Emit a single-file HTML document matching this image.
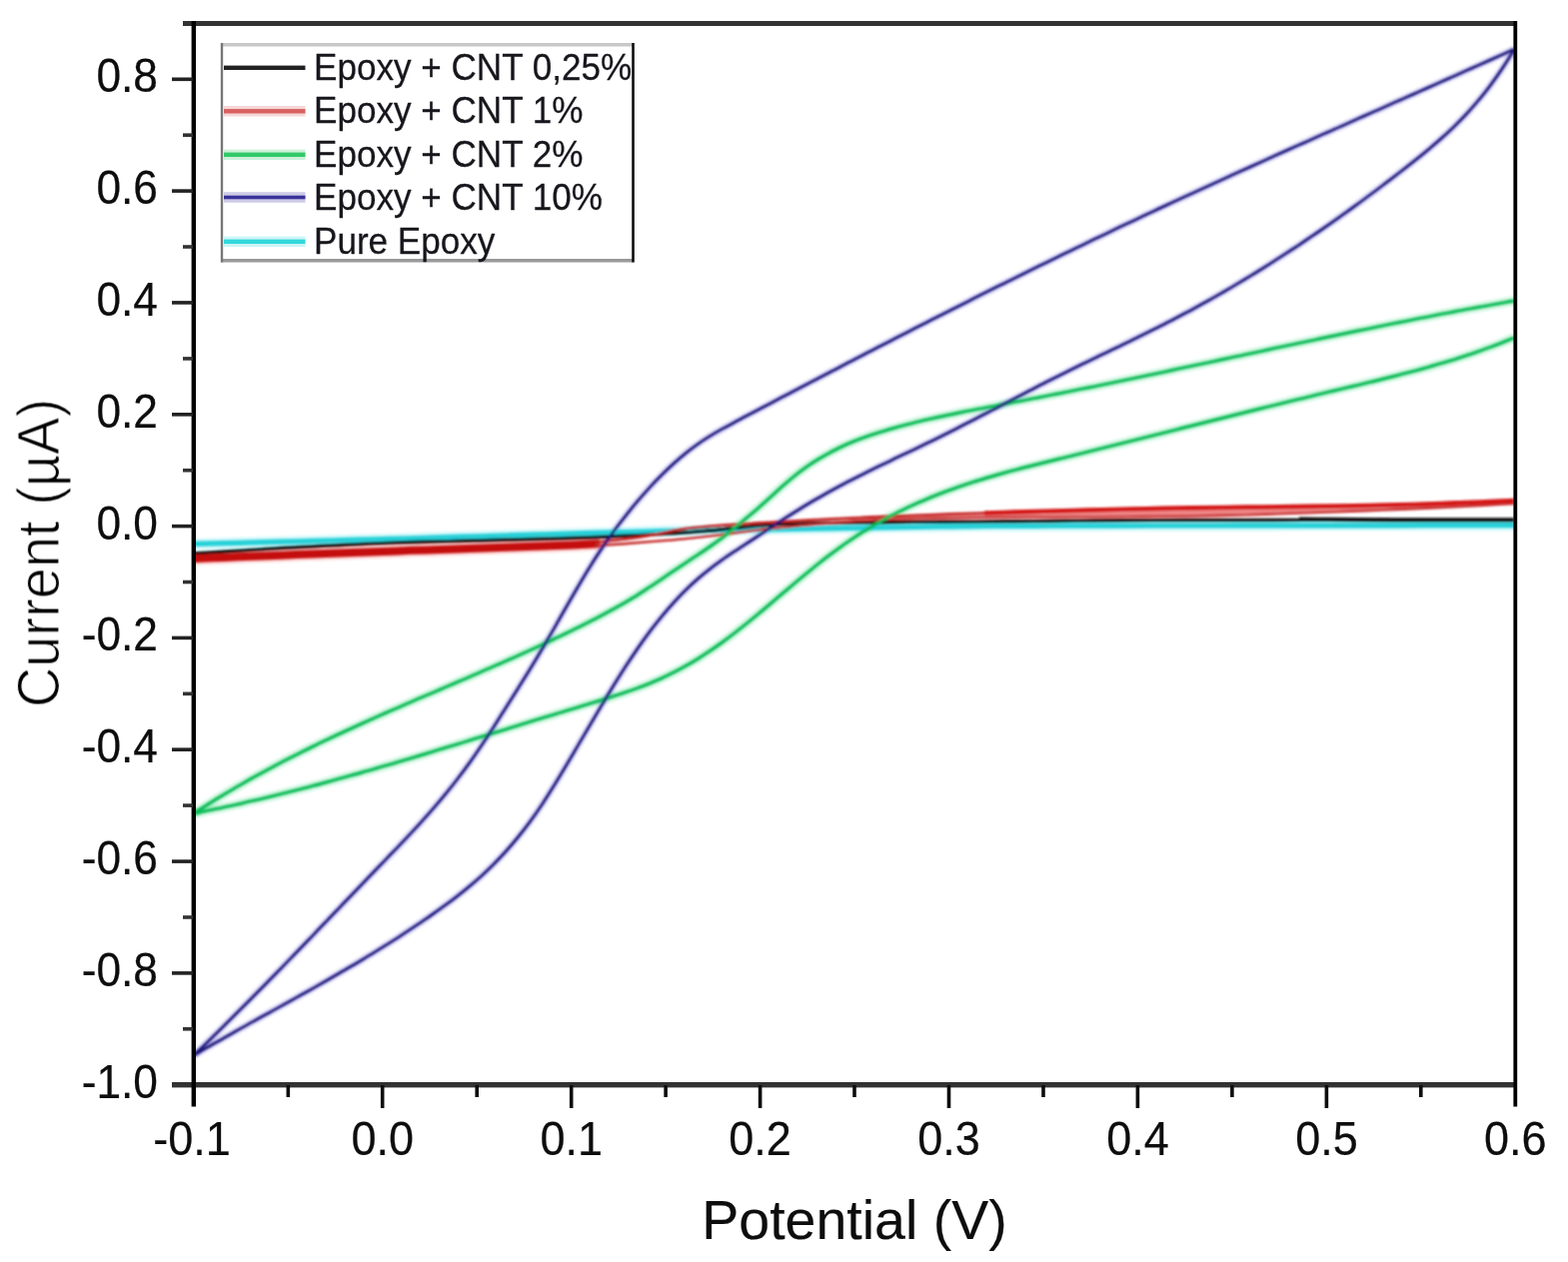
<!DOCTYPE html>
<html lang="en"><head><meta charset="utf-8"><title>Cyclic voltammetry – Epoxy + CNT</title>
<style>
html,body{margin:0;padding:0;background:#fff;}
body{width:1569px;height:1263px;overflow:hidden;}
svg{display:block;}
text{font-family:"Liberation Sans",sans-serif;fill:#0c0c0c;stroke:#0c0c0c;stroke-width:0.2px;stroke-linejoin:round;}
.tk{font-size:45px;}
.lg{font-size:35.1px;fill:#16161c;stroke:#16161c;stroke-width:0.25px;}
.ax{font-size:56px;fill:#0c0c0c;stroke:#0c0c0c;stroke-width:0.15px;}
</style></head><body>
<svg width="1569" height="1263" viewBox="0 0 1569 1263">
<rect width="1569" height="1263" fill="#fff"/>
<defs><filter id="b1" x="-2%" y="-2%" width="104%" height="104%"><feGaussianBlur stdDeviation="0.9"/></filter><filter id="b2" x="-5%" y="-5%" width="110%" height="110%"><feGaussianBlur stdDeviation="0.75"/></filter><clipPath id="cp"><rect x="193.8" y="23" width="1322.5" height="1063"/></clipPath></defs>
<g clip-path="url(#cp)"><g fill="none" stroke-linejoin="round" stroke-linecap="butt" filter="url(#b1)">
<g stroke-opacity="0.22">
<path d="M194.0 544.4 C199.0 544.3 214.0 543.9 224.0 543.7 C234.0 543.4 244.0 543.2 254.0 542.9 C264.1 542.7 274.1 542.4 284.1 542.2 C294.1 541.9 304.1 541.7 314.1 541.4 C324.1 541.1 334.1 540.9 344.1 540.6 C354.1 540.3 364.1 540.1 374.1 539.8 C384.1 539.5 394.2 539.3 404.2 539.0 C414.2 538.7 424.2 538.4 434.2 538.1 C444.2 537.8 454.2 537.5 464.2 537.2 C474.2 536.9 484.2 536.6 494.2 536.3 C504.2 536.0 514.2 535.7 524.2 535.4 C534.3 535.1 544.3 534.9 554.3 534.6 C564.3 534.3 574.3 534.0 584.3 533.7 C594.3 533.4 604.3 533.1 614.3 532.9 C624.3 532.6 634.3 532.3 644.3 532.0 C654.3 531.7 664.4 531.5 674.4 531.3 C684.4 531.0 694.4 530.9 704.4 530.7 C714.4 530.5 724.4 530.4 734.4 530.2 C744.4 530.1 754.4 530.0 764.4 529.8 C774.4 529.7 784.4 529.5 794.5 529.3 C804.5 529.2 814.5 529.0 824.5 528.8 C834.5 528.6 844.5 528.5 854.5 528.3 C864.5 528.1 874.5 528.0 884.5 527.8 C894.5 527.6 904.5 527.5 914.5 527.3 C924.6 527.2 934.6 527.0 944.6 526.9 C954.6 526.8 964.6 526.6 974.6 526.6 C984.6 526.5 994.6 526.5 1004.6 526.4 C1014.6 526.4 1024.6 526.3 1034.6 526.3 C1044.6 526.3 1054.7 526.2 1064.7 526.2 C1074.7 526.2 1084.7 526.2 1094.7 526.2 C1104.7 526.1 1114.7 526.1 1124.7 526.1 C1134.7 526.1 1144.7 526.1 1154.7 526.0 C1164.7 526.0 1174.7 526.0 1184.8 526.0 C1194.8 526.0 1204.8 526.0 1214.8 526.0 C1224.8 525.9 1234.8 525.9 1244.8 525.9 C1254.8 525.9 1264.8 525.9 1274.8 525.9 C1284.8 525.9 1294.8 525.9 1304.8 525.8 C1314.8 525.8 1324.9 525.8 1334.9 525.8 C1344.9 525.8 1354.9 525.8 1364.9 525.8 C1374.9 525.8 1384.9 525.8 1394.9 525.8 C1404.9 525.7 1414.9 525.7 1424.9 525.7 C1434.9 525.7 1444.9 525.7 1455.0 525.7 C1465.0 525.7 1475.0 525.7 1485.0 525.7 C1495.0 525.7 1510.0 525.7 1515.0 525.7" stroke="#30e0e8" stroke-width="11"/>
<path d="M194.0 559.0 C198.8 558.8 213.3 558.2 223.0 557.9 C232.7 557.5 242.3 557.1 252.0 556.8 C261.7 556.4 271.3 556.0 281.0 555.7 C290.7 555.3 300.3 554.9 310.0 554.6 C319.7 554.2 329.3 553.8 339.0 553.5 C348.7 553.1 358.3 552.8 368.0 552.4 C377.7 552.1 387.3 551.7 397.0 551.4 C406.7 551.0 416.3 550.7 426.0 550.4 C435.7 550.1 445.3 549.8 455.0 549.5 C464.7 549.2 474.3 548.9 484.0 548.5 C493.7 548.2 503.3 547.9 513.0 547.6 C522.7 547.3 532.3 546.9 542.0 546.6 C551.7 546.2 561.3 545.8 571.0 545.4 C580.7 545.0 595.2 544.2 600.0 544.0" stroke="#f03030" stroke-width="13"/>
<path d="M194.0 814.0 C196.0 812.7 202.0 808.8 206.0 806.3 C210.0 803.7 214.0 801.3 218.0 798.8 C222.0 796.4 226.0 794.0 230.0 791.6 C234.0 789.2 238.0 786.9 242.0 784.6 C246.0 782.3 250.0 780.0 254.0 777.8 C258.0 775.6 262.1 773.4 266.1 771.2 C270.1 769.1 274.1 766.9 278.1 764.8 C282.1 762.7 286.1 760.6 290.1 758.6 C294.1 756.5 298.1 754.5 302.1 752.5 C306.1 750.5 310.1 748.5 314.1 746.6 C318.1 744.6 322.1 742.7 326.1 740.8 C330.1 738.9 334.1 737.0 338.1 735.1 C342.1 733.3 346.1 731.4 350.1 729.6 C354.1 727.7 358.1 725.9 362.1 724.1 C366.1 722.3 370.1 720.5 374.1 718.7 C378.1 716.9 382.1 715.2 386.1 713.4 C390.1 711.7 394.2 709.9 398.2 708.2 C402.2 706.4 406.2 704.7 410.2 703.0 C414.2 701.2 418.2 699.5 422.2 697.8 C426.2 696.1 430.2 694.4 434.2 692.7 C438.2 691.0 442.2 689.2 446.2 687.5 C450.2 685.8 454.2 684.1 458.2 682.4 C462.2 680.7 466.2 679.0 470.2 677.2 C474.2 675.5 478.2 673.8 482.2 672.0 C486.2 670.3 490.2 668.6 494.2 666.8 C498.2 665.1 502.2 663.3 506.2 661.5 C510.2 659.8 514.2 658.0 518.2 656.2 C522.2 654.4 526.3 652.6 530.3 650.8 C534.3 648.9 538.3 647.1 542.3 645.3 C546.3 643.4 550.3 641.5 554.3 639.6 C558.3 637.7 562.3 635.8 566.3 633.9 C570.3 632.0 574.3 630.0 578.3 628.0 C582.3 626.0 586.3 624.0 590.3 622.0 C594.3 620.0 598.3 617.9 602.3 615.8 C606.3 613.7 610.3 611.5 614.3 609.3 C618.3 607.1 622.3 604.8 626.3 602.5 C630.3 600.1 634.3 597.7 638.3 595.2 C642.3 592.7 646.3 590.0 650.3 587.4 C654.3 584.7 658.4 582.0 662.4 579.3 C666.4 576.6 670.4 573.8 674.4 571.1 C678.4 568.4 682.4 565.8 686.4 563.1 C690.4 560.5 694.4 557.9 698.4 555.2 C702.4 552.5 706.4 549.8 710.4 547.0 C714.4 544.2 718.4 541.3 722.4 538.3 C726.4 535.2 730.4 532.0 734.4 528.8 C738.4 525.6 742.4 522.2 746.4 518.9 C750.4 515.5 754.4 512.2 758.4 508.7 C762.4 505.2 766.4 501.6 770.4 498.0 C774.4 494.4 778.4 490.6 782.4 487.0 C786.4 483.5 790.5 480.0 794.5 476.7 C798.5 473.5 802.5 470.5 806.5 467.7 C810.5 464.8 814.5 462.2 818.5 459.8 C822.5 457.3 826.5 455.0 830.5 452.9 C834.5 450.7 838.5 448.8 842.5 446.9 C846.5 445.0 850.5 443.3 854.5 441.7 C858.5 440.1 862.5 438.6 866.5 437.2 C870.5 435.7 874.5 434.4 878.5 433.1 C882.5 431.9 886.5 430.7 890.5 429.5 C894.5 428.4 898.5 427.3 902.5 426.2 C906.5 425.1 910.5 424.1 914.5 423.1 C918.5 422.1 922.6 421.2 926.6 420.2 C930.6 419.3 934.6 418.4 938.6 417.5 C942.6 416.6 946.6 415.8 950.6 415.0 C954.6 414.1 958.6 413.3 962.6 412.5 C966.6 411.7 970.6 410.9 974.6 410.2 C978.6 409.4 982.6 408.6 986.6 407.9 C990.6 407.1 994.6 406.3 998.6 405.6 C1002.6 404.8 1006.6 404.1 1010.6 403.3 C1014.6 402.6 1018.6 401.8 1022.6 401.1 C1026.6 400.3 1030.6 399.5 1034.6 398.7 C1038.6 398.0 1042.6 397.2 1046.6 396.4 C1050.6 395.6 1054.7 394.8 1058.7 394.0 C1062.7 393.3 1066.7 392.5 1070.7 391.7 C1074.7 390.8 1078.7 390.0 1082.7 389.2 C1086.7 388.4 1090.7 387.6 1094.7 386.8 C1098.7 386.0 1102.7 385.2 1106.7 384.3 C1110.7 383.5 1114.7 382.7 1118.7 381.9 C1122.7 381.0 1126.7 380.2 1130.7 379.4 C1134.7 378.5 1138.7 377.7 1142.7 376.8 C1146.7 376.0 1150.7 375.2 1154.7 374.3 C1158.7 373.5 1162.7 372.6 1166.7 371.8 C1170.7 370.9 1174.7 370.1 1178.7 369.2 C1182.7 368.4 1186.8 367.5 1190.8 366.7 C1194.8 365.8 1198.8 365.0 1202.8 364.1 C1206.8 363.3 1210.8 362.4 1214.8 361.6 C1218.8 360.7 1222.8 359.8 1226.8 359.0 C1230.8 358.1 1234.8 357.3 1238.8 356.4 C1242.8 355.6 1246.8 354.7 1250.8 353.8 C1254.8 353.0 1258.8 352.1 1262.8 351.3 C1266.8 350.4 1270.8 349.6 1274.8 348.7 C1278.8 347.9 1282.8 347.0 1286.8 346.2 C1290.8 345.3 1294.8 344.5 1298.8 343.6 C1302.8 342.8 1306.8 341.9 1310.8 341.1 C1314.8 340.2 1318.9 339.4 1322.9 338.5 C1326.9 337.7 1330.9 336.9 1334.9 336.0 C1338.9 335.2 1342.9 334.4 1346.9 333.5 C1350.9 332.7 1354.9 331.9 1358.9 331.0 C1362.9 330.2 1366.9 329.4 1370.9 328.6 C1374.9 327.7 1378.9 326.9 1382.9 326.1 C1386.9 325.3 1390.9 324.5 1394.9 323.7 C1398.9 322.9 1402.9 322.1 1406.9 321.3 C1410.9 320.5 1414.9 319.7 1418.9 318.9 C1422.9 318.1 1426.9 317.3 1430.9 316.6 C1434.9 315.8 1438.9 315.0 1442.9 314.2 C1446.9 313.5 1451.0 312.7 1455.0 312.0 C1459.0 311.2 1463.0 310.4 1467.0 309.7 C1471.0 309.0 1475.0 308.2 1479.0 307.5 C1483.0 306.7 1487.0 306.0 1491.0 305.3 C1495.0 304.6 1499.0 303.9 1503.0 303.1 C1507.0 302.4 1513.0 301.4 1515.0 301.0" stroke="#20d870" stroke-width="9.5"/>
<path d="M194.0 814.1 C196.0 813.7 202.0 812.5 206.0 811.7 C210.0 810.9 214.0 810.0 218.0 809.2 C222.0 808.4 226.0 807.5 230.0 806.6 C234.0 805.7 238.0 804.9 242.0 804.0 C246.0 803.0 250.0 802.1 254.0 801.2 C258.0 800.3 262.1 799.3 266.1 798.4 C270.1 797.4 274.1 796.4 278.1 795.4 C282.1 794.4 286.1 793.4 290.1 792.4 C294.1 791.4 298.1 790.4 302.1 789.4 C306.1 788.3 310.1 787.3 314.1 786.2 C318.1 785.2 322.1 784.1 326.1 783.0 C330.1 781.9 334.1 780.8 338.1 779.7 C342.1 778.6 346.1 777.5 350.1 776.4 C354.1 775.3 358.1 774.2 362.1 773.0 C366.1 771.9 370.1 770.8 374.1 769.6 C378.1 768.5 382.1 767.3 386.1 766.1 C390.1 765.0 394.2 763.8 398.2 762.6 C402.2 761.4 406.2 760.3 410.2 759.1 C414.2 757.9 418.2 756.7 422.2 755.5 C426.2 754.3 430.2 753.1 434.2 751.9 C438.2 750.7 442.2 749.5 446.2 748.2 C450.2 747.0 454.2 745.8 458.2 744.6 C462.2 743.4 466.2 742.1 470.2 740.9 C474.2 739.7 478.2 738.5 482.2 737.2 C486.2 736.0 490.2 734.8 494.2 733.5 C498.2 732.3 502.2 731.1 506.2 729.8 C510.2 728.6 514.2 727.4 518.2 726.1 C522.2 724.9 526.3 723.7 530.3 722.4 C534.3 721.2 538.3 720.0 542.3 718.7 C546.3 717.5 550.3 716.3 554.3 715.1 C558.3 713.8 562.3 712.6 566.3 711.4 C570.3 710.2 574.3 709.0 578.3 707.8 C582.3 706.6 586.3 705.4 590.3 704.1 C594.3 702.9 598.3 701.7 602.3 700.5 C606.3 699.3 610.3 698.0 614.3 696.7 C618.3 695.4 622.3 694.1 626.3 692.7 C630.3 691.4 634.3 690.0 638.3 688.5 C642.3 687.0 646.3 685.4 650.3 683.8 C654.3 682.1 658.4 680.4 662.4 678.6 C666.4 676.7 670.4 674.8 674.4 672.8 C678.4 670.8 682.4 668.6 686.4 666.3 C690.4 664.1 694.4 661.7 698.4 659.2 C702.4 656.7 706.4 654.1 710.4 651.4 C714.4 648.7 718.4 645.9 722.4 643.0 C726.4 640.1 730.4 637.1 734.4 634.0 C738.4 630.9 742.4 627.7 746.4 624.5 C750.4 621.3 754.4 618.0 758.4 614.7 C762.4 611.4 766.4 608.0 770.4 604.6 C774.4 601.2 778.4 597.8 782.4 594.4 C786.4 591.1 790.5 587.6 794.5 584.3 C798.5 580.9 802.5 577.6 806.5 574.3 C810.5 571.0 814.5 567.7 818.5 564.5 C822.5 561.3 826.5 558.2 830.5 555.2 C834.5 552.1 838.5 549.2 842.5 546.3 C846.5 543.5 850.5 540.8 854.5 538.1 C858.5 535.5 862.5 532.9 866.5 530.5 C870.5 528.0 874.5 525.6 878.5 523.4 C882.5 521.1 886.5 518.9 890.5 516.8 C894.5 514.7 898.5 512.6 902.5 510.7 C906.5 508.7 910.5 506.8 914.5 505.0 C918.5 503.2 922.6 501.4 926.6 499.8 C930.6 498.1 934.6 496.5 938.6 494.9 C942.6 493.3 946.6 491.8 950.6 490.4 C954.6 488.9 958.6 487.5 962.6 486.1 C966.6 484.8 970.6 483.5 974.6 482.2 C978.6 480.9 982.6 479.7 986.6 478.5 C990.6 477.3 994.6 476.2 998.6 475.0 C1002.6 473.9 1006.6 472.8 1010.6 471.7 C1014.6 470.6 1018.6 469.6 1022.6 468.5 C1026.6 467.5 1030.6 466.5 1034.6 465.5 C1038.6 464.5 1042.6 463.5 1046.6 462.5 C1050.6 461.5 1054.7 460.5 1058.7 459.5 C1062.7 458.5 1066.7 457.5 1070.7 456.6 C1074.7 455.6 1078.7 454.6 1082.7 453.6 C1086.7 452.6 1090.7 451.6 1094.7 450.6 C1098.7 449.6 1102.7 448.6 1106.7 447.6 C1110.7 446.6 1114.7 445.6 1118.7 444.6 C1122.7 443.6 1126.7 442.6 1130.7 441.6 C1134.7 440.6 1138.7 439.6 1142.7 438.6 C1146.7 437.6 1150.7 436.6 1154.7 435.6 C1158.7 434.6 1162.7 433.6 1166.7 432.6 C1170.7 431.6 1174.7 430.6 1178.7 429.6 C1182.7 428.5 1186.8 427.5 1190.8 426.5 C1194.8 425.5 1198.8 424.5 1202.8 423.5 C1206.8 422.5 1210.8 421.5 1214.8 420.5 C1218.8 419.5 1222.8 418.5 1226.8 417.5 C1230.8 416.5 1234.8 415.5 1238.8 414.5 C1242.8 413.5 1246.8 412.5 1250.8 411.5 C1254.8 410.5 1258.8 409.5 1262.8 408.5 C1266.8 407.5 1270.8 406.5 1274.8 405.6 C1278.8 404.6 1282.8 403.6 1286.8 402.6 C1290.8 401.6 1294.8 400.7 1298.8 399.7 C1302.8 398.7 1306.8 397.7 1310.8 396.8 C1314.8 395.8 1318.9 394.8 1322.9 393.9 C1326.9 392.9 1330.9 392.0 1334.9 391.0 C1338.9 390.1 1342.9 389.1 1346.9 388.2 C1350.9 387.2 1354.9 386.3 1358.9 385.3 C1362.9 384.3 1366.9 383.4 1370.9 382.4 C1374.9 381.5 1378.9 380.5 1382.9 379.5 C1386.9 378.5 1390.9 377.5 1394.9 376.5 C1398.9 375.5 1402.9 374.5 1406.9 373.4 C1410.9 372.4 1414.9 371.3 1418.9 370.3 C1422.9 369.2 1426.9 368.1 1430.9 366.9 C1434.9 365.8 1438.9 364.6 1442.9 363.4 C1446.9 362.3 1451.0 361.0 1455.0 359.8 C1459.0 358.5 1463.0 357.2 1467.0 355.9 C1471.0 354.6 1475.0 353.2 1479.0 351.8 C1483.0 350.4 1487.0 349.0 1491.0 347.5 C1495.0 346.0 1499.0 344.5 1503.0 342.9 C1507.0 341.3 1513.0 338.8 1515.0 338.0" stroke="#20d870" stroke-width="9.5"/>
<path d="M194.0 1056.0 C196.0 1054.1 202.0 1048.3 206.0 1044.4 C210.0 1040.5 214.0 1036.6 218.0 1032.7 C222.0 1028.7 226.0 1024.8 230.0 1020.8 C234.0 1016.8 238.0 1012.8 242.0 1008.8 C246.0 1004.8 250.0 1000.8 254.0 996.7 C258.0 992.7 262.1 988.6 266.1 984.5 C270.1 980.5 274.1 976.4 278.1 972.3 C282.1 968.2 286.1 964.0 290.1 959.9 C294.1 955.8 298.1 951.7 302.1 947.5 C306.1 943.4 310.1 939.2 314.1 935.1 C318.1 930.9 322.1 926.7 326.1 922.6 C330.1 918.4 334.1 914.2 338.1 910.1 C342.1 905.9 346.1 901.7 350.1 897.6 C354.1 893.4 358.1 889.2 362.1 885.0 C366.1 880.9 370.1 876.7 374.1 872.5 C378.1 868.4 382.1 864.2 386.1 860.1 C390.1 855.9 394.2 851.8 398.2 847.6 C402.2 843.4 406.2 839.2 410.2 834.9 C414.2 830.7 418.2 826.4 422.2 821.9 C426.2 817.5 430.2 813.0 434.2 808.4 C438.2 803.8 442.2 799.1 446.2 794.2 C450.2 789.3 454.2 784.3 458.2 779.0 C462.2 773.8 466.2 768.5 470.2 762.9 C474.2 757.3 478.2 751.4 482.2 745.5 C486.2 739.5 490.2 733.4 494.2 727.2 C498.2 721.0 502.2 714.6 506.2 708.3 C510.2 702.0 514.2 695.6 518.2 689.2 C522.2 682.8 526.3 676.4 530.3 669.8 C534.3 663.3 538.3 656.6 542.3 649.8 C546.3 643.0 550.3 636.1 554.3 629.1 C558.3 622.1 562.3 615.0 566.3 608.0 C570.3 601.0 574.3 594.0 578.3 587.2 C582.3 580.4 586.3 573.6 590.3 567.2 C594.3 560.7 598.3 554.5 602.3 548.6 C606.3 542.6 610.3 537.0 614.3 531.5 C618.3 526.0 622.3 520.8 626.3 515.8 C630.3 510.7 634.3 505.9 638.3 501.2 C642.3 496.5 646.3 492.0 650.3 487.6 C654.3 483.3 658.4 479.1 662.4 475.1 C666.4 471.1 670.4 467.2 674.4 463.6 C678.4 460.0 682.4 456.5 686.4 453.3 C690.4 450.1 694.4 447.1 698.4 444.3 C702.4 441.5 706.4 438.9 710.4 436.4 C714.4 434.0 718.4 431.7 722.4 429.4 C726.4 427.2 730.4 425.0 734.4 422.9 C738.4 420.7 742.4 418.7 746.4 416.5 C750.4 414.4 754.4 412.3 758.4 410.2 C762.4 408.1 766.4 406.0 770.4 403.9 C774.4 401.8 778.4 399.7 782.4 397.6 C786.4 395.5 790.5 393.4 794.5 391.3 C798.5 389.2 802.5 387.1 806.5 385.0 C810.5 382.9 814.5 380.8 818.5 378.7 C822.5 376.6 826.5 374.5 830.5 372.4 C834.5 370.4 838.5 368.3 842.5 366.2 C846.5 364.1 850.5 362.0 854.5 360.0 C858.5 357.9 862.5 355.8 866.5 353.7 C870.5 351.7 874.5 349.6 878.5 347.5 C882.5 345.5 886.5 343.4 890.5 341.4 C894.5 339.3 898.5 337.3 902.5 335.2 C906.5 333.2 910.5 331.1 914.5 329.1 C918.5 327.0 922.6 325.0 926.6 322.9 C930.6 320.9 934.6 318.9 938.6 316.8 C942.6 314.8 946.6 312.8 950.6 310.7 C954.6 308.7 958.6 306.7 962.6 304.7 C966.6 302.7 970.6 300.6 974.6 298.6 C978.6 296.6 982.6 294.6 986.6 292.6 C990.6 290.6 994.6 288.6 998.6 286.6 C1002.6 284.6 1006.6 282.6 1010.6 280.7 C1014.6 278.7 1018.6 276.7 1022.6 274.7 C1026.6 272.7 1030.6 270.8 1034.6 268.8 C1038.6 266.8 1042.6 264.9 1046.6 262.9 C1050.6 260.9 1054.7 259.0 1058.7 257.0 C1062.7 255.1 1066.7 253.1 1070.7 251.2 C1074.7 249.3 1078.7 247.3 1082.7 245.4 C1086.7 243.5 1090.7 241.5 1094.7 239.6 C1098.7 237.7 1102.7 235.8 1106.7 233.9 C1110.7 232.0 1114.7 230.0 1118.7 228.1 C1122.7 226.2 1126.7 224.3 1130.7 222.5 C1134.7 220.6 1138.7 218.7 1142.7 216.8 C1146.7 214.9 1150.7 213.0 1154.7 211.2 C1158.7 209.3 1162.7 207.4 1166.7 205.6 C1170.7 203.7 1174.7 201.9 1178.7 200.0 C1182.7 198.2 1186.8 196.3 1190.8 194.5 C1194.8 192.6 1198.8 190.8 1202.8 189.0 C1206.8 187.1 1210.8 185.3 1214.8 183.5 C1218.8 181.6 1222.8 179.8 1226.8 178.0 C1230.8 176.2 1234.8 174.4 1238.8 172.5 C1242.8 170.7 1246.8 168.9 1250.8 167.1 C1254.8 165.3 1258.8 163.5 1262.8 161.7 C1266.8 159.9 1270.8 158.1 1274.8 156.3 C1278.8 154.5 1282.8 152.7 1286.8 150.9 C1290.8 149.1 1294.8 147.3 1298.8 145.5 C1302.8 143.8 1306.8 142.0 1310.8 140.2 C1314.8 138.4 1318.9 136.6 1322.9 134.8 C1326.9 133.1 1330.9 131.3 1334.9 129.5 C1338.9 127.7 1342.9 125.9 1346.9 124.2 C1350.9 122.4 1354.9 120.6 1358.9 118.8 C1362.9 117.0 1366.9 115.3 1370.9 113.5 C1374.9 111.7 1378.9 109.9 1382.9 108.2 C1386.9 106.4 1390.9 104.6 1394.9 102.8 C1398.9 101.1 1402.9 99.3 1406.9 97.5 C1410.9 95.7 1414.9 94.0 1418.9 92.2 C1422.9 90.4 1426.9 88.6 1430.9 86.9 C1434.9 85.1 1438.9 83.3 1442.9 81.5 C1446.9 79.7 1451.0 78.0 1455.0 76.2 C1459.0 74.4 1463.0 72.6 1467.0 70.8 C1471.0 69.0 1475.0 67.3 1479.0 65.5 C1483.0 63.7 1487.0 61.9 1491.0 60.1 C1495.0 58.3 1499.0 56.5 1503.0 54.7 C1507.0 52.9 1513.0 50.2 1515.0 49.3" stroke="#5048d0" stroke-width="7.5"/>
<path d="M194.0 1056.0 C196.0 1054.9 202.0 1051.4 206.0 1049.0 C210.0 1046.7 214.0 1044.4 218.0 1042.2 C222.0 1039.9 226.0 1037.6 230.0 1035.4 C234.0 1033.1 238.0 1030.9 242.0 1028.6 C246.0 1026.4 250.0 1024.2 254.0 1021.9 C258.0 1019.7 262.1 1017.5 266.1 1015.3 C270.1 1013.1 274.1 1010.9 278.1 1008.6 C282.1 1006.4 286.1 1004.2 290.1 1002.0 C294.1 999.8 298.1 997.5 302.1 995.3 C306.1 993.1 310.1 990.8 314.1 988.6 C318.1 986.3 322.1 984.0 326.1 981.7 C330.1 979.5 334.1 977.2 338.1 974.8 C342.1 972.5 346.1 970.2 350.1 967.8 C354.1 965.5 358.1 963.1 362.1 960.7 C366.1 958.3 370.1 955.9 374.1 953.4 C378.1 950.9 382.1 948.5 386.1 945.9 C390.1 943.4 394.2 940.9 398.2 938.3 C402.2 935.7 406.2 933.1 410.2 930.4 C414.2 927.8 418.2 925.1 422.2 922.4 C426.2 919.6 430.2 916.9 434.2 914.0 C438.2 911.2 442.2 908.3 446.2 905.4 C450.2 902.5 454.2 899.5 458.2 896.3 C462.2 893.2 466.2 890.0 470.2 886.6 C474.2 883.3 478.2 879.8 482.2 876.2 C486.2 872.5 490.2 868.7 494.2 864.7 C498.2 860.6 502.2 856.5 506.2 852.0 C510.2 847.6 514.2 842.9 518.2 838.0 C522.2 833.1 526.3 827.9 530.3 822.4 C534.3 817.0 538.3 811.2 542.3 805.2 C546.3 799.2 550.3 792.8 554.3 786.3 C558.3 779.9 562.3 773.2 566.3 766.5 C570.3 759.8 574.3 752.9 578.3 746.1 C582.3 739.3 586.3 732.5 590.3 725.7 C594.3 718.9 598.3 712.1 602.3 705.4 C606.3 698.8 610.3 692.1 614.3 685.6 C618.3 679.2 622.3 672.8 626.3 666.6 C630.3 660.4 634.3 654.4 638.3 648.6 C642.3 642.8 646.3 637.3 650.3 631.9 C654.3 626.6 658.4 621.5 662.4 616.6 C666.4 611.7 670.4 607.1 674.4 602.7 C678.4 598.3 682.4 594.1 686.4 590.2 C690.4 586.3 694.4 582.6 698.4 579.1 C702.4 575.6 706.4 572.4 710.4 569.3 C714.4 566.2 718.4 563.3 722.4 560.4 C726.4 557.6 730.4 554.9 734.4 552.2 C738.4 549.5 742.4 546.9 746.4 544.3 C750.4 541.7 754.4 539.2 758.4 536.5 C762.4 533.9 766.4 531.3 770.4 528.6 C774.4 526.0 778.4 523.3 782.4 520.7 C786.4 518.1 790.5 515.5 794.5 513.0 C798.5 510.5 802.5 508.0 806.5 505.5 C810.5 503.1 814.5 500.8 818.5 498.5 C822.5 496.2 826.5 493.9 830.5 491.7 C834.5 489.5 838.5 487.4 842.5 485.3 C846.5 483.2 850.5 481.1 854.5 479.1 C858.5 477.0 862.5 475.0 866.5 473.0 C870.5 471.0 874.5 469.1 878.5 467.1 C882.5 465.2 886.5 463.3 890.5 461.4 C894.5 459.4 898.5 457.5 902.5 455.6 C906.5 453.7 910.5 451.8 914.5 449.9 C918.5 448.0 922.6 446.0 926.6 444.1 C930.6 442.1 934.6 440.2 938.6 438.2 C942.6 436.2 946.6 434.2 950.6 432.2 C954.6 430.2 958.6 428.1 962.6 426.1 C966.6 424.0 970.6 422.0 974.6 419.9 C978.6 417.8 982.6 415.8 986.6 413.7 C990.6 411.6 994.6 409.5 998.6 407.5 C1002.6 405.4 1006.6 403.3 1010.6 401.2 C1014.6 399.1 1018.6 397.0 1022.6 395.0 C1026.6 392.9 1030.6 390.8 1034.6 388.8 C1038.6 386.7 1042.6 384.6 1046.6 382.6 C1050.6 380.6 1054.7 378.5 1058.7 376.5 C1062.7 374.5 1066.7 372.5 1070.7 370.5 C1074.7 368.5 1078.7 366.6 1082.7 364.6 C1086.7 362.7 1090.7 360.7 1094.7 358.8 C1098.7 356.8 1102.7 354.9 1106.7 353.0 C1110.7 351.0 1114.7 349.1 1118.7 347.2 C1122.7 345.2 1126.7 343.3 1130.7 341.4 C1134.7 339.4 1138.7 337.4 1142.7 335.5 C1146.7 333.5 1150.7 331.5 1154.7 329.5 C1158.7 327.5 1162.7 325.5 1166.7 323.4 C1170.7 321.4 1174.7 319.3 1178.7 317.2 C1182.7 315.1 1186.8 313.0 1190.8 310.9 C1194.8 308.7 1198.8 306.5 1202.8 304.3 C1206.8 302.1 1210.8 299.8 1214.8 297.6 C1218.8 295.3 1222.8 293.0 1226.8 290.7 C1230.8 288.4 1234.8 286.0 1238.8 283.6 C1242.8 281.2 1246.8 278.8 1250.8 276.4 C1254.8 273.9 1258.8 271.5 1262.8 269.0 C1266.8 266.5 1270.8 264.0 1274.8 261.4 C1278.8 258.9 1282.8 256.3 1286.8 253.7 C1290.8 251.1 1294.8 248.4 1298.8 245.8 C1302.8 243.1 1306.8 240.4 1310.8 237.7 C1314.8 235.0 1318.9 232.3 1322.9 229.5 C1326.9 226.7 1330.9 223.9 1334.9 221.1 C1338.9 218.3 1342.9 215.5 1346.9 212.6 C1350.9 209.7 1354.9 206.8 1358.9 203.9 C1362.9 201.0 1366.9 198.0 1370.9 195.0 C1374.9 192.1 1378.9 189.1 1382.9 186.0 C1386.9 183.0 1390.9 180.0 1394.9 176.9 C1398.9 173.8 1402.9 170.7 1406.9 167.6 C1410.9 164.4 1414.9 161.3 1418.9 158.1 C1422.9 154.9 1426.9 151.6 1430.9 148.3 C1434.9 144.9 1438.9 141.5 1442.9 137.9 C1446.9 134.3 1451.0 130.6 1455.0 126.7 C1459.0 122.8 1463.0 118.8 1467.0 114.5 C1471.0 110.2 1475.0 105.7 1479.0 100.9 C1483.0 96.1 1487.0 91.2 1491.0 85.8 C1495.0 80.5 1499.0 74.9 1503.0 68.9 C1507.0 63.0 1513.0 53.2 1515.0 50.0" stroke="#5048d0" stroke-width="7.5"/>
</g>
<path d="M194.0 544.4 C199.0 544.3 214.0 543.9 224.0 543.7 C234.0 543.4 244.0 543.2 254.0 542.9 C264.1 542.7 274.1 542.4 284.1 542.2 C294.1 541.9 304.1 541.7 314.1 541.4 C324.1 541.1 334.1 540.9 344.1 540.6 C354.1 540.3 364.1 540.1 374.1 539.8 C384.1 539.5 394.2 539.3 404.2 539.0 C414.2 538.7 424.2 538.4 434.2 538.1 C444.2 537.8 454.2 537.5 464.2 537.2 C474.2 536.9 484.2 536.6 494.2 536.3 C504.2 536.0 514.2 535.7 524.2 535.4 C534.3 535.1 544.3 534.9 554.3 534.6 C564.3 534.3 574.3 534.0 584.3 533.7 C594.3 533.4 604.3 533.1 614.3 532.9 C624.3 532.6 634.3 532.3 644.3 532.0 C654.3 531.7 664.4 531.5 674.4 531.3 C684.4 531.0 694.4 530.9 704.4 530.7 C714.4 530.5 724.4 530.4 734.4 530.2 C744.4 530.1 754.4 530.0 764.4 529.8 C774.4 529.7 784.4 529.5 794.5 529.3 C804.5 529.2 814.5 529.0 824.5 528.8 C834.5 528.6 844.5 528.5 854.5 528.3 C864.5 528.1 874.5 528.0 884.5 527.8 C894.5 527.6 904.5 527.5 914.5 527.3 C924.6 527.2 934.6 527.0 944.6 526.9 C954.6 526.8 964.6 526.6 974.6 526.6 C984.6 526.5 994.6 526.5 1004.6 526.4 C1014.6 526.4 1024.6 526.3 1034.6 526.3 C1044.6 526.3 1054.7 526.2 1064.7 526.2 C1074.7 526.2 1084.7 526.2 1094.7 526.2 C1104.7 526.1 1114.7 526.1 1124.7 526.1 C1134.7 526.1 1144.7 526.1 1154.7 526.0 C1164.7 526.0 1174.7 526.0 1184.8 526.0 C1194.8 526.0 1204.8 526.0 1214.8 526.0 C1224.8 525.9 1234.8 525.9 1244.8 525.9 C1254.8 525.9 1264.8 525.9 1274.8 525.9 C1284.8 525.9 1294.8 525.9 1304.8 525.8 C1314.8 525.8 1324.9 525.8 1334.9 525.8 C1344.9 525.8 1354.9 525.8 1364.9 525.8 C1374.9 525.8 1384.9 525.8 1394.9 525.8 C1404.9 525.7 1414.9 525.7 1424.9 525.7 C1434.9 525.7 1444.9 525.7 1455.0 525.7 C1465.0 525.7 1475.0 525.7 1485.0 525.7 C1495.0 525.7 1510.0 525.7 1515.0 525.7" stroke="#28d0d8" stroke-width="5.2"/>
<path d="M194.0 554.0 C199.0 553.7 214.0 552.6 224.0 552.0 C234.0 551.3 244.0 550.7 254.0 550.1 C264.1 549.5 274.1 548.9 284.1 548.3 C294.1 547.7 304.1 547.2 314.1 546.7 C324.1 546.1 334.1 545.7 344.1 545.2 C354.1 544.7 364.1 544.3 374.1 543.9 C384.1 543.5 394.2 543.2 404.2 542.8 C414.2 542.5 424.2 542.2 434.2 542.0 C444.2 541.7 454.2 541.5 464.2 541.2 C474.2 541.0 484.2 540.8 494.2 540.5 C504.2 540.3 514.2 540.1 524.2 539.8 C534.3 539.6 544.3 539.3 554.3 539.0 C564.3 538.7 574.3 538.4 584.3 538.0 C594.3 537.7 604.3 537.3 614.3 536.8 C624.3 536.4 634.3 535.9 644.3 535.4 C654.3 534.9 664.4 534.4 674.4 533.8 C684.4 533.1 694.4 532.5 704.4 531.6 C714.4 530.8 724.4 529.5 734.4 528.5 C744.4 527.5 754.4 526.4 764.4 525.6 C774.4 524.9 784.4 524.6 794.5 524.2 C804.5 523.9 814.5 523.7 824.5 523.5 C834.5 523.3 844.5 523.2 854.5 523.1 C864.5 522.9 874.5 522.8 884.5 522.7 C894.5 522.6 904.5 522.5 914.5 522.4 C924.6 522.4 934.6 522.3 944.6 522.3 C954.6 522.2 964.6 522.1 974.6 522.1 C984.6 522.0 994.6 521.9 1004.6 521.8 C1014.6 521.8 1024.6 521.7 1034.6 521.6 C1044.6 521.5 1054.7 521.4 1064.7 521.3 C1074.7 521.2 1084.7 521.1 1094.7 521.0 C1104.7 520.9 1114.7 520.8 1124.7 520.8 C1134.7 520.7 1144.7 520.6 1154.7 520.6 C1164.7 520.5 1174.7 520.5 1184.8 520.5 C1194.8 520.5 1204.8 520.5 1214.8 520.5 C1224.8 520.5 1234.8 520.5 1244.8 520.5 C1254.8 520.5 1264.8 520.5 1274.8 520.5 C1284.8 520.4 1294.8 520.4 1304.8 520.4 C1314.8 520.4 1324.9 520.4 1334.9 520.4 C1344.9 520.4 1354.9 520.4 1364.9 520.4 C1374.9 520.4 1384.9 520.4 1394.9 520.4 C1404.9 520.4 1414.9 520.4 1424.9 520.4 C1434.9 520.4 1444.9 520.4 1455.0 520.4 C1465.0 520.4 1475.0 520.4 1485.0 520.4 C1495.0 520.4 1510.0 520.4 1515.0 520.4" stroke="#101010" stroke-width="3.4"/>
<path d="M194.0 559.0 C198.8 558.8 213.3 558.2 223.0 557.9 C232.7 557.5 242.3 557.1 252.0 556.8 C261.7 556.4 271.3 556.0 281.0 555.7 C290.7 555.3 300.3 554.9 310.0 554.6 C319.7 554.2 329.3 553.8 339.0 553.5 C348.7 553.1 358.3 552.8 368.0 552.4 C377.7 552.1 387.3 551.7 397.0 551.4 C406.7 551.0 416.3 550.7 426.0 550.4 C435.7 550.1 445.3 549.8 455.0 549.5 C464.7 549.2 474.3 548.9 484.0 548.5 C493.7 548.2 503.3 547.9 513.0 547.6 C522.7 547.3 532.3 546.9 542.0 546.6 C551.7 546.2 561.3 545.8 571.0 545.4 C580.7 545.0 595.2 544.2 600.0 544.0" stroke="#c41010" stroke-width="8"/>
<path d="M880.0 517.2 L910.2 516.0 L940.5 514.9 L970.7 513.9 L1001.0 513.0 L1031.2 512.2 L1061.4 511.3 L1091.7 510.5 L1121.9 509.8 L1152.1 509.1 L1182.4 508.5 L1212.6 508.1 L1242.9 507.7 L1273.1 507.3 L1303.3 507.0 L1333.6 506.6 L1363.8 506.1 L1394.0 505.4 L1424.3 504.5 L1454.5 503.5 L1484.8 502.3 L1515.0 501.0 L1515.0 504.0 L1484.8 505.7 L1454.5 507.2 L1424.3 508.7 L1394.0 510.0 L1363.8 511.2 L1333.6 512.3 L1303.3 513.4 L1273.1 514.5 L1242.9 515.3 L1212.6 516.1 L1182.4 516.5 L1152.1 516.8 L1121.9 517.1 L1091.7 517.2 L1061.4 517.4 L1031.2 517.6 L1001.0 517.8 L970.7 518.2 L940.5 518.6 L910.2 519.3 L880.0 520.2Z" stroke="none" fill="#f08888"/>
<path d="M596.0 546.0 C600.9 545.7 615.8 544.8 625.6 544.1 C635.5 543.4 645.4 542.6 655.3 541.8 C665.2 541.0 675.1 540.2 684.9 539.2 C694.8 538.2 704.7 537.1 714.6 536.0 C724.5 534.8 734.3 533.4 744.2 532.2 C754.1 530.9 764.0 529.7 773.9 528.6 C783.8 527.5 793.6 526.7 803.5 525.8 C813.4 524.9 823.3 523.9 833.2 523.2 C843.0 522.4 852.9 521.6 862.8 521.0 C872.7 520.5 882.6 520.1 892.5 519.8 C902.3 519.4 912.2 519.2 922.1 519.0 C932.0 518.8 941.9 518.6 951.7 518.5 C961.6 518.3 971.5 518.2 981.4 518.0 C991.3 517.9 1001.2 517.8 1011.0 517.7 C1020.9 517.7 1030.8 517.6 1040.7 517.5 C1050.6 517.5 1060.4 517.4 1070.3 517.3 C1080.2 517.3 1090.1 517.2 1100.0 517.2 C1109.8 517.1 1119.7 517.1 1129.6 517.0 C1139.5 516.9 1149.4 516.9 1159.3 516.8 C1169.1 516.7 1179.0 516.6 1188.9 516.5 C1198.8 516.3 1208.7 516.1 1218.5 515.9 C1228.4 515.7 1238.3 515.5 1248.2 515.2 C1258.1 514.9 1268.0 514.6 1277.8 514.3 C1287.7 514.0 1297.6 513.6 1307.5 513.3 C1317.4 512.9 1327.2 512.6 1337.1 512.2 C1347.0 511.8 1356.9 511.5 1366.8 511.1 C1376.7 510.7 1386.5 510.3 1396.4 509.9 C1406.3 509.5 1416.2 509.1 1426.1 508.6 C1435.9 508.1 1445.8 507.7 1455.7 507.2 C1465.6 506.7 1475.5 506.2 1485.4 505.6 C1495.2 505.1 1510.1 504.3 1515.0 504.0" stroke="#c83030" stroke-width="2.6"/>
<path d="M596.0 542.5 C600.9 542.0 615.8 540.7 625.6 539.4 C635.5 538.1 645.4 536.5 655.3 534.8 C665.2 533.1 675.1 530.6 684.9 529.2 C694.8 527.8 704.7 527.3 714.6 526.4 C724.5 525.6 734.3 525.0 744.2 524.4 C754.1 523.7 764.0 523.2 773.9 522.6 C783.8 522.1 793.6 521.5 803.5 520.9 C813.4 520.4 823.3 519.9 833.2 519.4 C843.0 518.9 852.9 518.4 862.8 518.0 C872.7 517.5 882.6 517.1 892.5 516.7 C902.3 516.3 912.2 515.9 922.1 515.6 C932.0 515.2 941.9 514.9 951.7 514.5 C961.6 514.2 971.5 513.9 981.4 513.6 C991.3 513.3 1001.2 513.0 1011.0 512.7 C1020.9 512.4 1030.8 512.2 1040.7 511.9 C1050.6 511.6 1060.4 511.3 1070.3 511.1 C1080.2 510.8 1090.1 510.6 1100.0 510.3 C1109.8 510.1 1119.7 509.8 1129.6 509.6 C1139.5 509.4 1149.4 509.2 1159.3 509.0 C1169.1 508.8 1179.0 508.6 1188.9 508.4 C1198.8 508.3 1208.7 508.1 1218.5 508.0 C1228.4 507.9 1238.3 507.7 1248.2 507.6 C1258.1 507.5 1268.0 507.4 1277.8 507.3 C1287.7 507.2 1297.6 507.1 1307.5 507.0 C1317.4 506.8 1327.2 506.7 1337.1 506.6 C1347.0 506.4 1356.9 506.2 1366.8 506.0 C1376.7 505.8 1386.5 505.6 1396.4 505.4 C1406.3 505.1 1416.2 504.8 1426.1 504.5 C1435.9 504.2 1445.8 503.8 1455.7 503.4 C1465.6 503.1 1475.5 502.7 1485.4 502.3 C1495.2 501.9 1510.1 501.2 1515.0 501.0" stroke="#c42020" stroke-width="2.8"/>
<path d="M985.0 513.5 C989.9 513.4 1004.6 512.9 1014.4 512.6 C1024.3 512.3 1034.1 512.0 1043.9 511.8 C1053.7 511.5 1063.5 511.2 1073.3 511.0 C1083.1 510.7 1093.0 510.5 1102.8 510.2 C1112.6 510.0 1122.4 509.8 1132.2 509.5 C1142.0 509.3 1151.9 509.1 1161.7 508.9 C1171.5 508.7 1181.3 508.6 1191.1 508.4 C1200.9 508.2 1210.7 508.1 1220.6 508.0 C1230.4 507.8 1240.2 507.7 1250.0 507.6 C1259.8 507.5 1269.6 507.4 1279.4 507.3 C1289.3 507.2 1299.1 507.1 1308.9 506.9 C1318.7 506.8 1328.5 506.7 1338.3 506.5 C1348.1 506.4 1358.0 506.2 1367.8 506.0 C1377.6 505.8 1387.4 505.6 1397.2 505.3 C1407.0 505.1 1416.9 504.8 1426.7 504.5 C1436.5 504.1 1446.3 503.8 1456.1 503.4 C1465.9 503.0 1475.7 502.7 1485.6 502.2 C1495.4 501.8 1510.1 501.2 1515.0 501.0" stroke="#d41414" stroke-width="4.6"/>
<path d="M1300.0 519.6 C1305.1 519.6 1320.5 519.8 1330.7 519.9 C1341.0 520.0 1351.2 520.1 1361.4 520.1 C1371.7 520.2 1381.9 520.2 1392.1 520.3 C1402.4 520.3 1412.6 520.3 1422.9 520.3 C1433.1 520.3 1443.3 520.4 1453.6 520.4 C1463.8 520.4 1474.0 520.4 1484.3 520.4 C1494.5 520.4 1509.9 520.4 1515.0 520.4" stroke="#080808" stroke-width="4.2"/>
<path d="M194.0 814.0 C196.0 812.7 202.0 808.8 206.0 806.3 C210.0 803.7 214.0 801.3 218.0 798.8 C222.0 796.4 226.0 794.0 230.0 791.6 C234.0 789.2 238.0 786.9 242.0 784.6 C246.0 782.3 250.0 780.0 254.0 777.8 C258.0 775.6 262.1 773.4 266.1 771.2 C270.1 769.1 274.1 766.9 278.1 764.8 C282.1 762.7 286.1 760.6 290.1 758.6 C294.1 756.5 298.1 754.5 302.1 752.5 C306.1 750.5 310.1 748.5 314.1 746.6 C318.1 744.6 322.1 742.7 326.1 740.8 C330.1 738.9 334.1 737.0 338.1 735.1 C342.1 733.3 346.1 731.4 350.1 729.6 C354.1 727.7 358.1 725.9 362.1 724.1 C366.1 722.3 370.1 720.5 374.1 718.7 C378.1 716.9 382.1 715.2 386.1 713.4 C390.1 711.7 394.2 709.9 398.2 708.2 C402.2 706.4 406.2 704.7 410.2 703.0 C414.2 701.2 418.2 699.5 422.2 697.8 C426.2 696.1 430.2 694.4 434.2 692.7 C438.2 691.0 442.2 689.2 446.2 687.5 C450.2 685.8 454.2 684.1 458.2 682.4 C462.2 680.7 466.2 679.0 470.2 677.2 C474.2 675.5 478.2 673.8 482.2 672.0 C486.2 670.3 490.2 668.6 494.2 666.8 C498.2 665.1 502.2 663.3 506.2 661.5 C510.2 659.8 514.2 658.0 518.2 656.2 C522.2 654.4 526.3 652.6 530.3 650.8 C534.3 648.9 538.3 647.1 542.3 645.3 C546.3 643.4 550.3 641.5 554.3 639.6 C558.3 637.7 562.3 635.8 566.3 633.9 C570.3 632.0 574.3 630.0 578.3 628.0 C582.3 626.0 586.3 624.0 590.3 622.0 C594.3 620.0 598.3 617.9 602.3 615.8 C606.3 613.7 610.3 611.5 614.3 609.3 C618.3 607.1 622.3 604.8 626.3 602.5 C630.3 600.1 634.3 597.7 638.3 595.2 C642.3 592.7 646.3 590.0 650.3 587.4 C654.3 584.7 658.4 582.0 662.4 579.3 C666.4 576.6 670.4 573.8 674.4 571.1 C678.4 568.4 682.4 565.8 686.4 563.1 C690.4 560.5 694.4 557.9 698.4 555.2 C702.4 552.5 706.4 549.8 710.4 547.0 C714.4 544.2 718.4 541.3 722.4 538.3 C726.4 535.2 730.4 532.0 734.4 528.8 C738.4 525.6 742.4 522.2 746.4 518.9 C750.4 515.5 754.4 512.2 758.4 508.7 C762.4 505.2 766.4 501.6 770.4 498.0 C774.4 494.4 778.4 490.6 782.4 487.0 C786.4 483.5 790.5 480.0 794.5 476.7 C798.5 473.5 802.5 470.5 806.5 467.7 C810.5 464.8 814.5 462.2 818.5 459.8 C822.5 457.3 826.5 455.0 830.5 452.9 C834.5 450.7 838.5 448.8 842.5 446.9 C846.5 445.0 850.5 443.3 854.5 441.7 C858.5 440.1 862.5 438.6 866.5 437.2 C870.5 435.7 874.5 434.4 878.5 433.1 C882.5 431.9 886.5 430.7 890.5 429.5 C894.5 428.4 898.5 427.3 902.5 426.2 C906.5 425.1 910.5 424.1 914.5 423.1 C918.5 422.1 922.6 421.2 926.6 420.2 C930.6 419.3 934.6 418.4 938.6 417.5 C942.6 416.6 946.6 415.8 950.6 415.0 C954.6 414.1 958.6 413.3 962.6 412.5 C966.6 411.7 970.6 410.9 974.6 410.2 C978.6 409.4 982.6 408.6 986.6 407.9 C990.6 407.1 994.6 406.3 998.6 405.6 C1002.6 404.8 1006.6 404.1 1010.6 403.3 C1014.6 402.6 1018.6 401.8 1022.6 401.1 C1026.6 400.3 1030.6 399.5 1034.6 398.7 C1038.6 398.0 1042.6 397.2 1046.6 396.4 C1050.6 395.6 1054.7 394.8 1058.7 394.0 C1062.7 393.3 1066.7 392.5 1070.7 391.7 C1074.7 390.8 1078.7 390.0 1082.7 389.2 C1086.7 388.4 1090.7 387.6 1094.7 386.8 C1098.7 386.0 1102.7 385.2 1106.7 384.3 C1110.7 383.5 1114.7 382.7 1118.7 381.9 C1122.7 381.0 1126.7 380.2 1130.7 379.4 C1134.7 378.5 1138.7 377.7 1142.7 376.8 C1146.7 376.0 1150.7 375.2 1154.7 374.3 C1158.7 373.5 1162.7 372.6 1166.7 371.8 C1170.7 370.9 1174.7 370.1 1178.7 369.2 C1182.7 368.4 1186.8 367.5 1190.8 366.7 C1194.8 365.8 1198.8 365.0 1202.8 364.1 C1206.8 363.3 1210.8 362.4 1214.8 361.6 C1218.8 360.7 1222.8 359.8 1226.8 359.0 C1230.8 358.1 1234.8 357.3 1238.8 356.4 C1242.8 355.6 1246.8 354.7 1250.8 353.8 C1254.8 353.0 1258.8 352.1 1262.8 351.3 C1266.8 350.4 1270.8 349.6 1274.8 348.7 C1278.8 347.9 1282.8 347.0 1286.8 346.2 C1290.8 345.3 1294.8 344.5 1298.8 343.6 C1302.8 342.8 1306.8 341.9 1310.8 341.1 C1314.8 340.2 1318.9 339.4 1322.9 338.5 C1326.9 337.7 1330.9 336.9 1334.9 336.0 C1338.9 335.2 1342.9 334.4 1346.9 333.5 C1350.9 332.7 1354.9 331.9 1358.9 331.0 C1362.9 330.2 1366.9 329.4 1370.9 328.6 C1374.9 327.7 1378.9 326.9 1382.9 326.1 C1386.9 325.3 1390.9 324.5 1394.9 323.7 C1398.9 322.9 1402.9 322.1 1406.9 321.3 C1410.9 320.5 1414.9 319.7 1418.9 318.9 C1422.9 318.1 1426.9 317.3 1430.9 316.6 C1434.9 315.8 1438.9 315.0 1442.9 314.2 C1446.9 313.5 1451.0 312.7 1455.0 312.0 C1459.0 311.2 1463.0 310.4 1467.0 309.7 C1471.0 309.0 1475.0 308.2 1479.0 307.5 C1483.0 306.7 1487.0 306.0 1491.0 305.3 C1495.0 304.6 1499.0 303.9 1503.0 303.1 C1507.0 302.4 1513.0 301.4 1515.0 301.0" stroke="#0cbc58" stroke-width="3.4"/>
<path d="M194.0 814.1 C196.0 813.7 202.0 812.5 206.0 811.7 C210.0 810.9 214.0 810.0 218.0 809.2 C222.0 808.4 226.0 807.5 230.0 806.6 C234.0 805.7 238.0 804.9 242.0 804.0 C246.0 803.0 250.0 802.1 254.0 801.2 C258.0 800.3 262.1 799.3 266.1 798.4 C270.1 797.4 274.1 796.4 278.1 795.4 C282.1 794.4 286.1 793.4 290.1 792.4 C294.1 791.4 298.1 790.4 302.1 789.4 C306.1 788.3 310.1 787.3 314.1 786.2 C318.1 785.2 322.1 784.1 326.1 783.0 C330.1 781.9 334.1 780.8 338.1 779.7 C342.1 778.6 346.1 777.5 350.1 776.4 C354.1 775.3 358.1 774.2 362.1 773.0 C366.1 771.9 370.1 770.8 374.1 769.6 C378.1 768.5 382.1 767.3 386.1 766.1 C390.1 765.0 394.2 763.8 398.2 762.6 C402.2 761.4 406.2 760.3 410.2 759.1 C414.2 757.9 418.2 756.7 422.2 755.5 C426.2 754.3 430.2 753.1 434.2 751.9 C438.2 750.7 442.2 749.5 446.2 748.2 C450.2 747.0 454.2 745.8 458.2 744.6 C462.2 743.4 466.2 742.1 470.2 740.9 C474.2 739.7 478.2 738.5 482.2 737.2 C486.2 736.0 490.2 734.8 494.2 733.5 C498.2 732.3 502.2 731.1 506.2 729.8 C510.2 728.6 514.2 727.4 518.2 726.1 C522.2 724.9 526.3 723.7 530.3 722.4 C534.3 721.2 538.3 720.0 542.3 718.7 C546.3 717.5 550.3 716.3 554.3 715.1 C558.3 713.8 562.3 712.6 566.3 711.4 C570.3 710.2 574.3 709.0 578.3 707.8 C582.3 706.6 586.3 705.4 590.3 704.1 C594.3 702.9 598.3 701.7 602.3 700.5 C606.3 699.3 610.3 698.0 614.3 696.7 C618.3 695.4 622.3 694.1 626.3 692.7 C630.3 691.4 634.3 690.0 638.3 688.5 C642.3 687.0 646.3 685.4 650.3 683.8 C654.3 682.1 658.4 680.4 662.4 678.6 C666.4 676.7 670.4 674.8 674.4 672.8 C678.4 670.8 682.4 668.6 686.4 666.3 C690.4 664.1 694.4 661.7 698.4 659.2 C702.4 656.7 706.4 654.1 710.4 651.4 C714.4 648.7 718.4 645.9 722.4 643.0 C726.4 640.1 730.4 637.1 734.4 634.0 C738.4 630.9 742.4 627.7 746.4 624.5 C750.4 621.3 754.4 618.0 758.4 614.7 C762.4 611.4 766.4 608.0 770.4 604.6 C774.4 601.2 778.4 597.8 782.4 594.4 C786.4 591.1 790.5 587.6 794.5 584.3 C798.5 580.9 802.5 577.6 806.5 574.3 C810.5 571.0 814.5 567.7 818.5 564.5 C822.5 561.3 826.5 558.2 830.5 555.2 C834.5 552.1 838.5 549.2 842.5 546.3 C846.5 543.5 850.5 540.8 854.5 538.1 C858.5 535.5 862.5 532.9 866.5 530.5 C870.5 528.0 874.5 525.6 878.5 523.4 C882.5 521.1 886.5 518.9 890.5 516.8 C894.5 514.7 898.5 512.6 902.5 510.7 C906.5 508.7 910.5 506.8 914.5 505.0 C918.5 503.2 922.6 501.4 926.6 499.8 C930.6 498.1 934.6 496.5 938.6 494.9 C942.6 493.3 946.6 491.8 950.6 490.4 C954.6 488.9 958.6 487.5 962.6 486.1 C966.6 484.8 970.6 483.5 974.6 482.2 C978.6 480.9 982.6 479.7 986.6 478.5 C990.6 477.3 994.6 476.2 998.6 475.0 C1002.6 473.9 1006.6 472.8 1010.6 471.7 C1014.6 470.6 1018.6 469.6 1022.6 468.5 C1026.6 467.5 1030.6 466.5 1034.6 465.5 C1038.6 464.5 1042.6 463.5 1046.6 462.5 C1050.6 461.5 1054.7 460.5 1058.7 459.5 C1062.7 458.5 1066.7 457.5 1070.7 456.6 C1074.7 455.6 1078.7 454.6 1082.7 453.6 C1086.7 452.6 1090.7 451.6 1094.7 450.6 C1098.7 449.6 1102.7 448.6 1106.7 447.6 C1110.7 446.6 1114.7 445.6 1118.7 444.6 C1122.7 443.6 1126.7 442.6 1130.7 441.6 C1134.7 440.6 1138.7 439.6 1142.7 438.6 C1146.7 437.6 1150.7 436.6 1154.7 435.6 C1158.7 434.6 1162.7 433.6 1166.7 432.6 C1170.7 431.6 1174.7 430.6 1178.7 429.6 C1182.7 428.5 1186.8 427.5 1190.8 426.5 C1194.8 425.5 1198.8 424.5 1202.8 423.5 C1206.8 422.5 1210.8 421.5 1214.8 420.5 C1218.8 419.5 1222.8 418.5 1226.8 417.5 C1230.8 416.5 1234.8 415.5 1238.8 414.5 C1242.8 413.5 1246.8 412.5 1250.8 411.5 C1254.8 410.5 1258.8 409.5 1262.8 408.5 C1266.8 407.5 1270.8 406.5 1274.8 405.6 C1278.8 404.6 1282.8 403.6 1286.8 402.6 C1290.8 401.6 1294.8 400.7 1298.8 399.7 C1302.8 398.7 1306.8 397.7 1310.8 396.8 C1314.8 395.8 1318.9 394.8 1322.9 393.9 C1326.9 392.9 1330.9 392.0 1334.9 391.0 C1338.9 390.1 1342.9 389.1 1346.9 388.2 C1350.9 387.2 1354.9 386.3 1358.9 385.3 C1362.9 384.3 1366.9 383.4 1370.9 382.4 C1374.9 381.5 1378.9 380.5 1382.9 379.5 C1386.9 378.5 1390.9 377.5 1394.9 376.5 C1398.9 375.5 1402.9 374.5 1406.9 373.4 C1410.9 372.4 1414.9 371.3 1418.9 370.3 C1422.9 369.2 1426.9 368.1 1430.9 366.9 C1434.9 365.8 1438.9 364.6 1442.9 363.4 C1446.9 362.3 1451.0 361.0 1455.0 359.8 C1459.0 358.5 1463.0 357.2 1467.0 355.9 C1471.0 354.6 1475.0 353.2 1479.0 351.8 C1483.0 350.4 1487.0 349.0 1491.0 347.5 C1495.0 346.0 1499.0 344.5 1503.0 342.9 C1507.0 341.3 1513.0 338.8 1515.0 338.0" stroke="#0cbc58" stroke-width="3.4"/>
<path d="M194.0 1056.0 C196.0 1054.1 202.0 1048.3 206.0 1044.4 C210.0 1040.5 214.0 1036.6 218.0 1032.7 C222.0 1028.7 226.0 1024.8 230.0 1020.8 C234.0 1016.8 238.0 1012.8 242.0 1008.8 C246.0 1004.8 250.0 1000.8 254.0 996.7 C258.0 992.7 262.1 988.6 266.1 984.5 C270.1 980.5 274.1 976.4 278.1 972.3 C282.1 968.2 286.1 964.0 290.1 959.9 C294.1 955.8 298.1 951.7 302.1 947.5 C306.1 943.4 310.1 939.2 314.1 935.1 C318.1 930.9 322.1 926.7 326.1 922.6 C330.1 918.4 334.1 914.2 338.1 910.1 C342.1 905.9 346.1 901.7 350.1 897.6 C354.1 893.4 358.1 889.2 362.1 885.0 C366.1 880.9 370.1 876.7 374.1 872.5 C378.1 868.4 382.1 864.2 386.1 860.1 C390.1 855.9 394.2 851.8 398.2 847.6 C402.2 843.4 406.2 839.2 410.2 834.9 C414.2 830.7 418.2 826.4 422.2 821.9 C426.2 817.5 430.2 813.0 434.2 808.4 C438.2 803.8 442.2 799.1 446.2 794.2 C450.2 789.3 454.2 784.3 458.2 779.0 C462.2 773.8 466.2 768.5 470.2 762.9 C474.2 757.3 478.2 751.4 482.2 745.5 C486.2 739.5 490.2 733.4 494.2 727.2 C498.2 721.0 502.2 714.6 506.2 708.3 C510.2 702.0 514.2 695.6 518.2 689.2 C522.2 682.8 526.3 676.4 530.3 669.8 C534.3 663.3 538.3 656.6 542.3 649.8 C546.3 643.0 550.3 636.1 554.3 629.1 C558.3 622.1 562.3 615.0 566.3 608.0 C570.3 601.0 574.3 594.0 578.3 587.2 C582.3 580.4 586.3 573.6 590.3 567.2 C594.3 560.7 598.3 554.5 602.3 548.6 C606.3 542.6 610.3 537.0 614.3 531.5 C618.3 526.0 622.3 520.8 626.3 515.8 C630.3 510.7 634.3 505.9 638.3 501.2 C642.3 496.5 646.3 492.0 650.3 487.6 C654.3 483.3 658.4 479.1 662.4 475.1 C666.4 471.1 670.4 467.2 674.4 463.6 C678.4 460.0 682.4 456.5 686.4 453.3 C690.4 450.1 694.4 447.1 698.4 444.3 C702.4 441.5 706.4 438.9 710.4 436.4 C714.4 434.0 718.4 431.7 722.4 429.4 C726.4 427.2 730.4 425.0 734.4 422.9 C738.4 420.7 742.4 418.7 746.4 416.5 C750.4 414.4 754.4 412.3 758.4 410.2 C762.4 408.1 766.4 406.0 770.4 403.9 C774.4 401.8 778.4 399.7 782.4 397.6 C786.4 395.5 790.5 393.4 794.5 391.3 C798.5 389.2 802.5 387.1 806.5 385.0 C810.5 382.9 814.5 380.8 818.5 378.7 C822.5 376.6 826.5 374.5 830.5 372.4 C834.5 370.4 838.5 368.3 842.5 366.2 C846.5 364.1 850.5 362.0 854.5 360.0 C858.5 357.9 862.5 355.8 866.5 353.7 C870.5 351.7 874.5 349.6 878.5 347.5 C882.5 345.5 886.5 343.4 890.5 341.4 C894.5 339.3 898.5 337.3 902.5 335.2 C906.5 333.2 910.5 331.1 914.5 329.1 C918.5 327.0 922.6 325.0 926.6 322.9 C930.6 320.9 934.6 318.9 938.6 316.8 C942.6 314.8 946.6 312.8 950.6 310.7 C954.6 308.7 958.6 306.7 962.6 304.7 C966.6 302.7 970.6 300.6 974.6 298.6 C978.6 296.6 982.6 294.6 986.6 292.6 C990.6 290.6 994.6 288.6 998.6 286.6 C1002.6 284.6 1006.6 282.6 1010.6 280.7 C1014.6 278.7 1018.6 276.7 1022.6 274.7 C1026.6 272.7 1030.6 270.8 1034.6 268.8 C1038.6 266.8 1042.6 264.9 1046.6 262.9 C1050.6 260.9 1054.7 259.0 1058.7 257.0 C1062.7 255.1 1066.7 253.1 1070.7 251.2 C1074.7 249.3 1078.7 247.3 1082.7 245.4 C1086.7 243.5 1090.7 241.5 1094.7 239.6 C1098.7 237.7 1102.7 235.8 1106.7 233.9 C1110.7 232.0 1114.7 230.0 1118.7 228.1 C1122.7 226.2 1126.7 224.3 1130.7 222.5 C1134.7 220.6 1138.7 218.7 1142.7 216.8 C1146.7 214.9 1150.7 213.0 1154.7 211.2 C1158.7 209.3 1162.7 207.4 1166.7 205.6 C1170.7 203.7 1174.7 201.9 1178.7 200.0 C1182.7 198.2 1186.8 196.3 1190.8 194.5 C1194.8 192.6 1198.8 190.8 1202.8 189.0 C1206.8 187.1 1210.8 185.3 1214.8 183.5 C1218.8 181.6 1222.8 179.8 1226.8 178.0 C1230.8 176.2 1234.8 174.4 1238.8 172.5 C1242.8 170.7 1246.8 168.9 1250.8 167.1 C1254.8 165.3 1258.8 163.5 1262.8 161.7 C1266.8 159.9 1270.8 158.1 1274.8 156.3 C1278.8 154.5 1282.8 152.7 1286.8 150.9 C1290.8 149.1 1294.8 147.3 1298.8 145.5 C1302.8 143.8 1306.8 142.0 1310.8 140.2 C1314.8 138.4 1318.9 136.6 1322.9 134.8 C1326.9 133.1 1330.9 131.3 1334.9 129.5 C1338.9 127.7 1342.9 125.9 1346.9 124.2 C1350.9 122.4 1354.9 120.6 1358.9 118.8 C1362.9 117.0 1366.9 115.3 1370.9 113.5 C1374.9 111.7 1378.9 109.9 1382.9 108.2 C1386.9 106.4 1390.9 104.6 1394.9 102.8 C1398.9 101.1 1402.9 99.3 1406.9 97.5 C1410.9 95.7 1414.9 94.0 1418.9 92.2 C1422.9 90.4 1426.9 88.6 1430.9 86.9 C1434.9 85.1 1438.9 83.3 1442.9 81.5 C1446.9 79.7 1451.0 78.0 1455.0 76.2 C1459.0 74.4 1463.0 72.6 1467.0 70.8 C1471.0 69.0 1475.0 67.3 1479.0 65.5 C1483.0 63.7 1487.0 61.9 1491.0 60.1 C1495.0 58.3 1499.0 56.5 1503.0 54.7 C1507.0 52.9 1513.0 50.2 1515.0 49.3" stroke="#1a1678" stroke-width="2.8"/>
<path d="M194.0 1056.0 C196.0 1054.9 202.0 1051.4 206.0 1049.0 C210.0 1046.7 214.0 1044.4 218.0 1042.2 C222.0 1039.9 226.0 1037.6 230.0 1035.4 C234.0 1033.1 238.0 1030.9 242.0 1028.6 C246.0 1026.4 250.0 1024.2 254.0 1021.9 C258.0 1019.7 262.1 1017.5 266.1 1015.3 C270.1 1013.1 274.1 1010.9 278.1 1008.6 C282.1 1006.4 286.1 1004.2 290.1 1002.0 C294.1 999.8 298.1 997.5 302.1 995.3 C306.1 993.1 310.1 990.8 314.1 988.6 C318.1 986.3 322.1 984.0 326.1 981.7 C330.1 979.5 334.1 977.2 338.1 974.8 C342.1 972.5 346.1 970.2 350.1 967.8 C354.1 965.5 358.1 963.1 362.1 960.7 C366.1 958.3 370.1 955.9 374.1 953.4 C378.1 950.9 382.1 948.5 386.1 945.9 C390.1 943.4 394.2 940.9 398.2 938.3 C402.2 935.7 406.2 933.1 410.2 930.4 C414.2 927.8 418.2 925.1 422.2 922.4 C426.2 919.6 430.2 916.9 434.2 914.0 C438.2 911.2 442.2 908.3 446.2 905.4 C450.2 902.5 454.2 899.5 458.2 896.3 C462.2 893.2 466.2 890.0 470.2 886.6 C474.2 883.3 478.2 879.8 482.2 876.2 C486.2 872.5 490.2 868.7 494.2 864.7 C498.2 860.6 502.2 856.5 506.2 852.0 C510.2 847.6 514.2 842.9 518.2 838.0 C522.2 833.1 526.3 827.9 530.3 822.4 C534.3 817.0 538.3 811.2 542.3 805.2 C546.3 799.2 550.3 792.8 554.3 786.3 C558.3 779.9 562.3 773.2 566.3 766.5 C570.3 759.8 574.3 752.9 578.3 746.1 C582.3 739.3 586.3 732.5 590.3 725.7 C594.3 718.9 598.3 712.1 602.3 705.4 C606.3 698.8 610.3 692.1 614.3 685.6 C618.3 679.2 622.3 672.8 626.3 666.6 C630.3 660.4 634.3 654.4 638.3 648.6 C642.3 642.8 646.3 637.3 650.3 631.9 C654.3 626.6 658.4 621.5 662.4 616.6 C666.4 611.7 670.4 607.1 674.4 602.7 C678.4 598.3 682.4 594.1 686.4 590.2 C690.4 586.3 694.4 582.6 698.4 579.1 C702.4 575.6 706.4 572.4 710.4 569.3 C714.4 566.2 718.4 563.3 722.4 560.4 C726.4 557.6 730.4 554.9 734.4 552.2 C738.4 549.5 742.4 546.9 746.4 544.3 C750.4 541.7 754.4 539.2 758.4 536.5 C762.4 533.9 766.4 531.3 770.4 528.6 C774.4 526.0 778.4 523.3 782.4 520.7 C786.4 518.1 790.5 515.5 794.5 513.0 C798.5 510.5 802.5 508.0 806.5 505.5 C810.5 503.1 814.5 500.8 818.5 498.5 C822.5 496.2 826.5 493.9 830.5 491.7 C834.5 489.5 838.5 487.4 842.5 485.3 C846.5 483.2 850.5 481.1 854.5 479.1 C858.5 477.0 862.5 475.0 866.5 473.0 C870.5 471.0 874.5 469.1 878.5 467.1 C882.5 465.2 886.5 463.3 890.5 461.4 C894.5 459.4 898.5 457.5 902.5 455.6 C906.5 453.7 910.5 451.8 914.5 449.9 C918.5 448.0 922.6 446.0 926.6 444.1 C930.6 442.1 934.6 440.2 938.6 438.2 C942.6 436.2 946.6 434.2 950.6 432.2 C954.6 430.2 958.6 428.1 962.6 426.1 C966.6 424.0 970.6 422.0 974.6 419.9 C978.6 417.8 982.6 415.8 986.6 413.7 C990.6 411.6 994.6 409.5 998.6 407.5 C1002.6 405.4 1006.6 403.3 1010.6 401.2 C1014.6 399.1 1018.6 397.0 1022.6 395.0 C1026.6 392.9 1030.6 390.8 1034.6 388.8 C1038.6 386.7 1042.6 384.6 1046.6 382.6 C1050.6 380.6 1054.7 378.5 1058.7 376.5 C1062.7 374.5 1066.7 372.5 1070.7 370.5 C1074.7 368.5 1078.7 366.6 1082.7 364.6 C1086.7 362.7 1090.7 360.7 1094.7 358.8 C1098.7 356.8 1102.7 354.9 1106.7 353.0 C1110.7 351.0 1114.7 349.1 1118.7 347.2 C1122.7 345.2 1126.7 343.3 1130.7 341.4 C1134.7 339.4 1138.7 337.4 1142.7 335.5 C1146.7 333.5 1150.7 331.5 1154.7 329.5 C1158.7 327.5 1162.7 325.5 1166.7 323.4 C1170.7 321.4 1174.7 319.3 1178.7 317.2 C1182.7 315.1 1186.8 313.0 1190.8 310.9 C1194.8 308.7 1198.8 306.5 1202.8 304.3 C1206.8 302.1 1210.8 299.8 1214.8 297.6 C1218.8 295.3 1222.8 293.0 1226.8 290.7 C1230.8 288.4 1234.8 286.0 1238.8 283.6 C1242.8 281.2 1246.8 278.8 1250.8 276.4 C1254.8 273.9 1258.8 271.5 1262.8 269.0 C1266.8 266.5 1270.8 264.0 1274.8 261.4 C1278.8 258.9 1282.8 256.3 1286.8 253.7 C1290.8 251.1 1294.8 248.4 1298.8 245.8 C1302.8 243.1 1306.8 240.4 1310.8 237.7 C1314.8 235.0 1318.9 232.3 1322.9 229.5 C1326.9 226.7 1330.9 223.9 1334.9 221.1 C1338.9 218.3 1342.9 215.5 1346.9 212.6 C1350.9 209.7 1354.9 206.8 1358.9 203.9 C1362.9 201.0 1366.9 198.0 1370.9 195.0 C1374.9 192.1 1378.9 189.1 1382.9 186.0 C1386.9 183.0 1390.9 180.0 1394.9 176.9 C1398.9 173.8 1402.9 170.7 1406.9 167.6 C1410.9 164.4 1414.9 161.3 1418.9 158.1 C1422.9 154.9 1426.9 151.6 1430.9 148.3 C1434.9 144.9 1438.9 141.5 1442.9 137.9 C1446.9 134.3 1451.0 130.6 1455.0 126.7 C1459.0 122.8 1463.0 118.8 1467.0 114.5 C1471.0 110.2 1475.0 105.7 1479.0 100.9 C1483.0 96.1 1487.0 91.2 1491.0 85.8 C1495.0 80.5 1499.0 74.9 1503.0 68.9 C1507.0 63.0 1513.0 53.2 1515.0 50.0" stroke="#1a1678" stroke-width="2.8"/>
</g></g>
<g filter="url(#b2)">
<g stroke="none">
<rect x="183" y="21" width="1335.0" height="5" fill="#333"/>
<rect x="172" y="1083" width="1346.0" height="5.4" fill="#333"/>
<rect x="191.6" y="21" width="4.4" height="1086.5" fill="#000"/>
<rect x="1514.4" y="21" width="3.8" height="1086.5" fill="#000"/>
<rect x="183" y="1028.0" width="10" height="3.6" fill="#333"/>
<rect x="172" y="972.1" width="21" height="3.6" fill="#222"/>
<rect x="183" y="916.2" width="10" height="3.6" fill="#333"/>
<rect x="172" y="860.3" width="21" height="3.6" fill="#222"/>
<rect x="183" y="804.3" width="10" height="3.6" fill="#333"/>
<rect x="172" y="748.4" width="21" height="3.6" fill="#222"/>
<rect x="183" y="692.5" width="10" height="3.6" fill="#333"/>
<rect x="172" y="636.6" width="21" height="3.6" fill="#222"/>
<rect x="183" y="580.7" width="10" height="3.6" fill="#333"/>
<rect x="172" y="524.8" width="21" height="3.6" fill="#222"/>
<rect x="183" y="468.9" width="10" height="3.6" fill="#333"/>
<rect x="172" y="413.0" width="21" height="3.6" fill="#222"/>
<rect x="183" y="357.1" width="10" height="3.6" fill="#333"/>
<rect x="172" y="301.1" width="21" height="3.6" fill="#222"/>
<rect x="183" y="245.2" width="10" height="3.6" fill="#333"/>
<rect x="172" y="189.3" width="21" height="3.6" fill="#222"/>
<rect x="183" y="133.4" width="10" height="3.6" fill="#333"/>
<rect x="172" y="77.5" width="21" height="3.6" fill="#222"/>
<rect x="286.5" y="1086" width="3.6" height="12" fill="#111"/>
<rect x="380.9" y="1086" width="3.6" height="23" fill="#111"/>
<rect x="475.4" y="1086" width="3.6" height="12" fill="#111"/>
<rect x="569.9" y="1086" width="3.6" height="23" fill="#111"/>
<rect x="664.3" y="1086" width="3.6" height="12" fill="#111"/>
<rect x="758.8" y="1086" width="3.6" height="23" fill="#111"/>
<rect x="853.2" y="1086" width="3.6" height="12" fill="#111"/>
<rect x="947.7" y="1086" width="3.6" height="23" fill="#111"/>
<rect x="1042.2" y="1086" width="3.6" height="12" fill="#111"/>
<rect x="1136.6" y="1086" width="3.6" height="23" fill="#111"/>
<rect x="1231.1" y="1086" width="3.6" height="12" fill="#111"/>
<rect x="1325.6" y="1086" width="3.6" height="23" fill="#111"/>
<rect x="1420.0" y="1086" width="3.6" height="12" fill="#111"/>
</g>
<g class="tk" text-anchor="end" style="font-size:44.3px">
<text transform="translate(158 1098.7) scale(1 1.09)">-1.0</text>
<text transform="translate(158 986.9) scale(1 1.09)">-0.8</text>
<text transform="translate(158 875.1) scale(1 1.09)">-0.6</text>
<text transform="translate(158 763.2) scale(1 1.09)">-0.4</text>
<text transform="translate(158 651.4) scale(1 1.09)">-0.2</text>
<text transform="translate(158 539.6) scale(1 1.09)">0.0</text>
<text transform="translate(158 427.8) scale(1 1.09)">0.2</text>
<text transform="translate(158 315.9) scale(1 1.09)">0.4</text>
<text transform="translate(158 204.1) scale(1 1.09)">0.6</text>
<text transform="translate(158 92.3) scale(1 1.09)">0.8</text>
</g>
<g class="tk" text-anchor="middle">
<text transform="translate(192.0 1156.3) scale(1 1.08)">-0.1</text>
<text transform="translate(382.7 1156.3) scale(1 1.08)">0.0</text>
<text transform="translate(571.7 1156.3) scale(1 1.08)">0.1</text>
<text transform="translate(760.6 1156.3) scale(1 1.08)">0.2</text>
<text transform="translate(949.5 1156.3) scale(1 1.08)">0.3</text>
<text transform="translate(1138.4 1156.3) scale(1 1.08)">0.4</text>
<text transform="translate(1327.4 1156.3) scale(1 1.08)">0.5</text>
<text transform="translate(1516.3 1156.3) scale(1 1.08)">0.6</text>
</g>
<text class="ax" text-anchor="middle" style="font-size:55.5px" x="855" y="1240">Potential (V)</text>
<text class="ax" text-anchor="middle" style="stroke:#fff;stroke-width:1.1px;fill:#000" transform="translate(58.5 553.5) rotate(-90) scale(1 1.05)">Current (µA)</text>
<g>
<rect x="222" y="44.5" width="411.5" height="216.5" fill="#fff"/>
<rect x="221" y="43" width="413" height="3.5" fill="#c8c8c8"/>
<rect x="221" y="259" width="413" height="3.5" fill="#999"/>
<rect x="220.8" y="43" width="2.4" height="219.5" fill="#777"/>
<rect x="632.2" y="43" width="2.6" height="219.5" fill="#111"/>
<rect x="224" y="65.6" width="81.5" height="4.4" fill="#222"/>
<text class="lg" transform="translate(314 79.8) scale(1 1.06)">Epoxy + CNT 0,25%</text>
<rect x="224" y="106.0" width="81.5" height="10.5" fill="#d86060" fill-opacity="0.25"/>
<rect x="224" y="109.1" width="81.5" height="4.4" fill="#d86060"/>
<text class="lg" transform="translate(314 123.3) scale(1 1.06)">Epoxy + CNT 1%</text>
<rect x="224" y="149.6" width="81.5" height="10.5" fill="#30c868" fill-opacity="0.25"/>
<rect x="224" y="152.6" width="81.5" height="4.4" fill="#30c868"/>
<text class="lg" transform="translate(314 166.8) scale(1 1.06)">Epoxy + CNT 2%</text>
<rect x="224" y="192.2" width="81.5" height="10.5" fill="#38309a" fill-opacity="0.25"/>
<rect x="224" y="195.7" width="81.5" height="3.6" fill="#38309a"/>
<text class="lg" transform="translate(314 210.3) scale(1 1.06)">Epoxy + CNT 10%</text>
<rect x="224" y="236.6" width="81.5" height="10.5" fill="#30d8dc" fill-opacity="0.25"/>
<rect x="224" y="239.6" width="81.5" height="4.4" fill="#30d8dc"/>
<text class="lg" transform="translate(314 253.8) scale(1 1.06)">Pure Epoxy</text>
</g>
</g>
</svg></body></html>
